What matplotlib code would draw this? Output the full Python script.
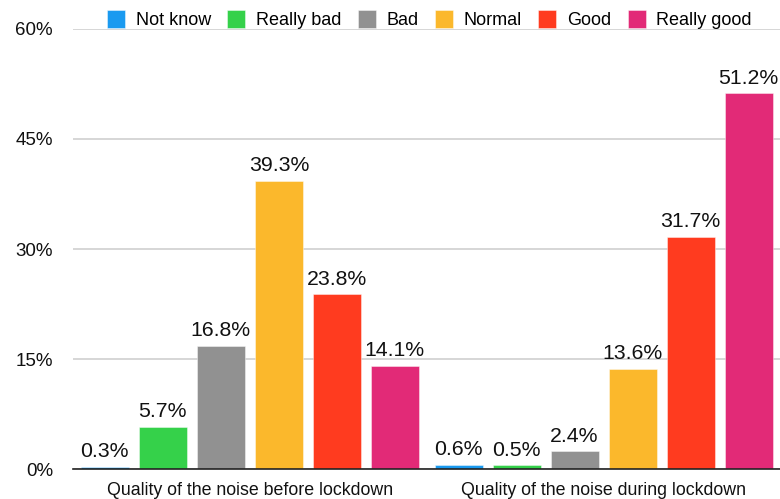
import matplotlib
matplotlib.use("Agg")
import matplotlib.pyplot as plt
import numpy as np

plt.rcParams['font.family'] = ['Liberation Sans', 'DejaVu Sans']

categories = ["Quality of the noise before lockdown", "Quality of the noise during lockdown"]
series_names = ["Not know", "Really bad", "Bad", "Normal", "Good", "Really good"]
before = [0.3, 5.7, 16.8, 39.3, 23.8, 14.1]
during = [0.6, 0.5, 2.4, 13.6, 31.7, 51.2]
colors = ["#1A9AF0", "#35D14A", "#919191", "#FBB82C", "#FF3B1F", "#E22A77"]
yticks = [0, 15, 30, 45, 60]

fig = plt.figure(figsize=(7.8, 4.99), dpi=100)
ax = fig.add_axes([0.0936, 0.060, 0.907, 0.882])

x = np.arange(len(categories))
step = 0.164
width = 0.136
for i, name in enumerate(series_names):
    vals = [before[i], during[i]]
    pos = x + (i - 2.5) * step
    ax.bar(pos, vals, width=width, color=colors[i], label=name,
           edgecolor=(1, 1, 1, 0.5), linewidth=0.6, zorder=3)
    for p, v in zip(pos, vals):
        ax.text(p, v + 0.8, f"{v:.1f}%", ha="center", va="bottom", fontsize=15.3, color="#111111", zorder=4)

ax.set_xlim(-0.5, 1.5)
ax.set_ylim(0, 60)
ax.set_yticks(yticks)
ax.set_yticklabels([f"{t}%" for t in yticks], fontsize=13.5)
ax.set_xticks(x)
ax.set_xticklabels(categories, fontsize=12.8)
ax.tick_params(axis='both', length=0, colors="#111111")
ax.tick_params(axis='y', pad=14.4)
ax.tick_params(axis='x', pad=9)
ax.yaxis.grid(True, color="#D0D0D0", linewidth=1.2, zorder=0)
for s in ["top", "right", "left"]:
    ax.spines[s].set_visible(False)
ax.spines["bottom"].set_color("#222222")
ax.spines["bottom"].set_linewidth(1.2)
ax.spines["bottom"].set_zorder(5)

leg = fig.legend(loc="center left", bbox_to_anchor=(0.116, 0.961), ncol=6, frameon=False,
                 fontsize=13, handlelength=1.0, handleheight=1.2, handletextpad=0.6,
                 columnspacing=0.9, borderpad=0.4)

fig.savefig("out.png", dpi=100)
